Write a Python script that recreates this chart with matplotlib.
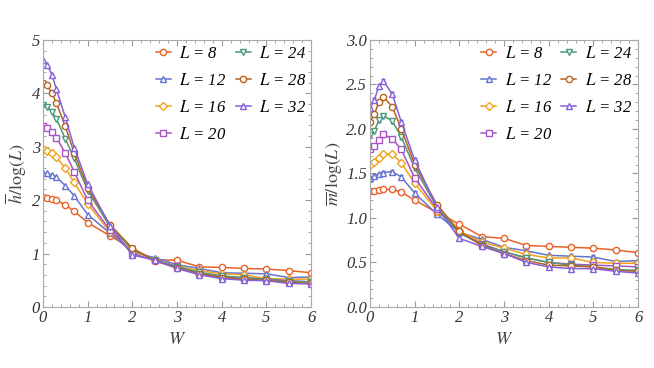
import numpy as np
import matplotlib.pyplot as plt
from matplotlib.ticker import MultipleLocator, FormatStrFormatter
from matplotlib.container import ErrorbarContainer

plt.rcParams['font.family'] = 'Liberation Serif'
plt.rcParams['mathtext.fontset'] = 'stix'

# datos
W = [0, 0.1, 0.2, 0.3, 0.5, 0.7, 1.0, 1.5, 2, 2.5, 3, 3.5, 4, 4.5, 5, 5.5, 6]
tamanos = [8, 12, 16, 20, 24, 28, 32]

h8  = [2.05, 2.04, 2.02, 2.00, 1.91, 1.79, 1.58, 1.33, 1.09, 0.88, 0.875, 0.75, 0.74, 0.72, 0.71, 0.68, 0.64]
h12 = [2.50, 2.50, 2.47, 2.43, 2.27, 2.08, 1.73, 1.38, 1.03, 0.92, 0.79, 0.72, 0.64, 0.63, 0.62, 0.55, 0.56]
h16 = [2.95, 2.92, 2.88, 2.80, 2.60, 2.33, 1.93, 1.40, 1.06, 0.88, 0.76, 0.68, 0.62, 0.60, 0.53, 0.52, 0.52]
h20 = [3.38, 3.35, 3.28, 3.17, 2.88, 2.53, 2.00, 1.44, 1.00, 0.87, 0.76, 0.63, 0.57, 0.54, 0.52, 0.49, 0.47]
h24 = [3.78, 3.75, 3.65, 3.52, 3.15, 2.78, 2.18, 1.50, 1.08, 0.88, 0.75, 0.65, 0.58, 0.55, 0.52, 0.48, 0.47]
h28 = [4.20, 4.15, 4.00, 3.82, 3.38, 2.88, 2.23, 1.54, 1.10, 0.86, 0.73, 0.62, 0.55, 0.52, 0.50, 0.46, 0.44]
h32 = [4.62, 4.53, 4.35, 4.08, 3.55, 2.98, 2.30, 1.52, 0.97, 0.88, 0.72, 0.60, 0.53, 0.50, 0.49, 0.44, 0.43]

m8  = [1.30, 1.30, 1.31, 1.32, 1.32, 1.29, 1.20, 1.06, 0.93, 0.79, 0.77, 0.69, 0.68, 0.67, 0.66, 0.64, 0.61]
m12 = [1.45, 1.47, 1.49, 1.51, 1.52, 1.46, 1.28, 1.04, 0.84, 0.76, 0.67, 0.63, 0.58, 0.57, 0.56, 0.51, 0.52]
m16 = [1.60, 1.63, 1.67, 1.72, 1.72, 1.62, 1.39, 1.08, 0.85, 0.73, 0.66, 0.59, 0.55, 0.55, 0.50, 0.49, 0.49]
m20 = [1.77, 1.81, 1.88, 1.94, 1.89, 1.77, 1.45, 1.10, 0.84, 0.71, 0.62, 0.55, 0.50, 0.48, 0.47, 0.46, 0.45]
m24 = [1.93, 1.98, 2.10, 2.15, 2.09, 1.91, 1.56, 1.12, 0.83, 0.70, 0.62, 0.55, 0.50, 0.47, 0.45, 0.42, 0.41]
m28 = [2.08, 2.17, 2.30, 2.36, 2.25, 2.00, 1.60, 1.15, 0.85, 0.69, 0.60, 0.52, 0.47, 0.46, 0.45, 0.41, 0.40]
m32 = [2.23, 2.33, 2.48, 2.54, 2.39, 2.08, 1.65, 1.12, 0.77, 0.68, 0.60, 0.50, 0.45, 0.43, 0.43, 0.40, 0.38]
m_err = 0.02

datos_h = [h8, h12, h16, h20, h24, h28, h32]
datos_m = [m8, m12, m16, m20, m24, m28, m32]

colores = ['#E8622A', '#6574CD', '#F0A31C', '#A953C4', '#4A9A7A', '#B8621E', '#8560D8']
marcas = ['o', '^', 'D', 's', 'v', 'o', '^']
tam_marca = [4.5, 5, 4, 4.5, 5, 4.5, 5]

ventana = plt.figure(figsize=(6.54, 3.68), dpi=100)
ax1 = ventana.add_axes([0.0657, 0.166, 0.41, 0.7255])
ax2 = ventana.add_axes([0.5657, 0.166, 0.41, 0.7255])

for k in range(len(tamanos)):
    ax1.plot(W, datos_h[k], marker=marcas[k], color=colores[k], mfc='white',
             ms=tam_marca[k], mew=1.0, lw=1.1, label=r'$L$ = %d' % tamanos[k])
    ax2.errorbar(W, datos_m[k], yerr=m_err, marker=marcas[k], color=colores[k], mfc='white',
                 ms=tam_marca[k], mew=1.0, lw=1.1, capsize=1.5, elinewidth=0.8,
                 label=r'$L$ = %d' % tamanos[k])

def estilo(plano, ymax, ymayor, yformato, xleyenda):
    plano.set_xlim(0, 6)
    plano.set_ylim(0, ymax)
    plano.xaxis.set_major_locator(MultipleLocator(1))
    plano.xaxis.set_minor_locator(MultipleLocator(0.2))
    plano.yaxis.set_major_locator(MultipleLocator(ymayor))
    plano.yaxis.set_minor_locator(MultipleLocator(ymayor / 5))
    if yformato:
        plano.yaxis.set_major_formatter(FormatStrFormatter(yformato))
    plano.tick_params(which='both', direction='in', top=True, right=True, color='#999999',
                      labelsize=12, pad=2, labelcolor='#333333')
    plano.tick_params(which='major', length=4)
    plano.tick_params(which='minor', length=2)
    for s in plano.spines.values():
        s.set_color('#AAAAAA')
    plano.set_xlabel(r'$W$', fontsize=13, labelpad=4, color='#444444')
    manijas, etiquetas = plano.get_legend_handles_labels()
    manijas = [m[0] if isinstance(m, ErrorbarContainer) else m for m in manijas]
    plano.legend(manijas, etiquetas, loc='upper left', bbox_to_anchor=(xleyenda, 1.035), ncol=2,
                 frameon=False, prop={'family': 'Liberation Serif', 'style': 'italic', 'size': 12},
                 handlelength=0.9, handletextpad=0.5, columnspacing=0.55, labelspacing=0.66)
    plt.setp(plano.get_xticklabels() + plano.get_yticklabels(), fontstyle='italic')

estilo(ax1, 5, 1, None, 0.365)
estilo(ax2, 3.0, 0.5, '%.1f', 0.36)
ax1.set_ylabel(r'$\overline{h}/\mathrm{log}(L)$', fontsize=13, labelpad=2, color='#444444')
ax2.set_ylabel(r'$\overline{m}/\mathrm{log}(L)$', fontsize=13, labelpad=1, color='#444444')

plt.savefig('out.png', dpi=100)
